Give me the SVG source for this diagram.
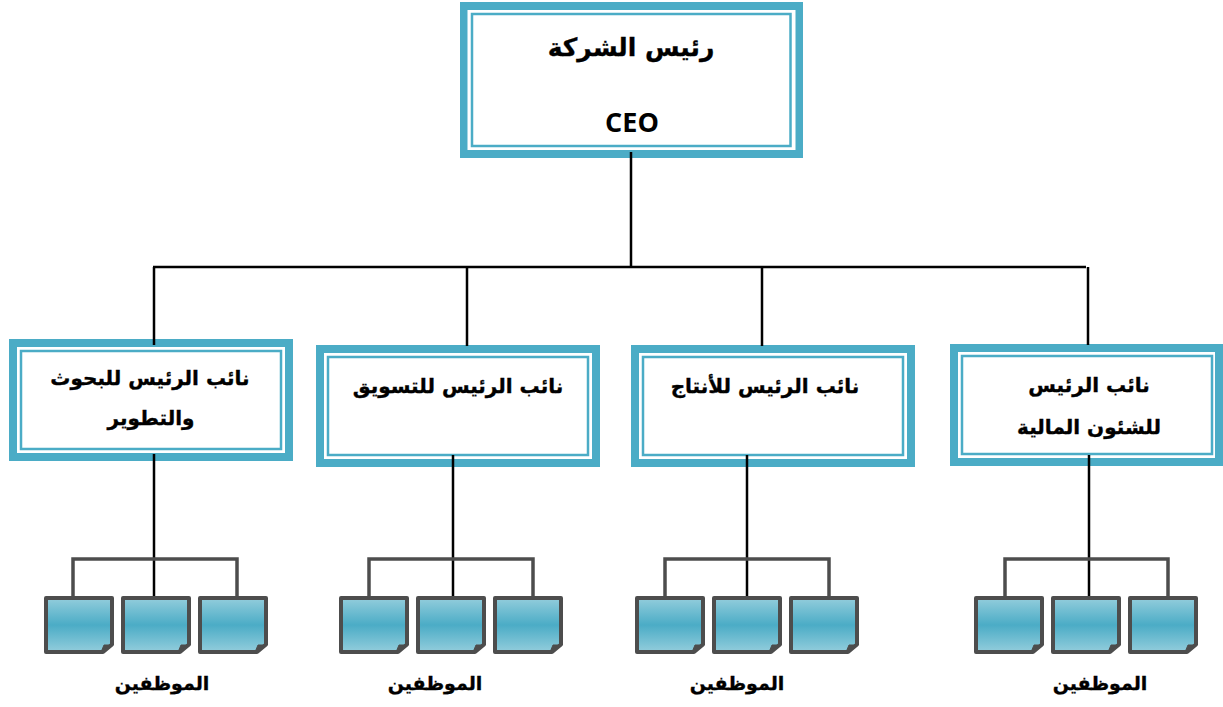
<svg xmlns="http://www.w3.org/2000/svg" width="1223" height="707" viewBox="0 0 1223 707">
<defs>
<linearGradient id="g" x1="0" y1="0" x2="0" y2="1"><stop offset="0" stop-color="#93cddc"/><stop offset="0.5" stop-color="#4bacc6"/><stop offset="1" stop-color="#93cddc"/></linearGradient>
<g id="leaf"><path class="leaf" d="M0 0H66V46.500L57 54H0Z"/><path class="fold" d="M65 47H58L55.500 53Z"/></g>
</defs>
<style>
text{font-weight:700;fill:#000;text-anchor:middle}
.a{font-family:"DejaVu Sans",sans-serif;font-size:20px;direction:rtl;stroke:#000;stroke-width:.35}
.t1{font-size:25px}
.s{font-size:19px}
.c{font-family:"Open Sans",sans-serif;font-size:27px}
.band{fill:#4bacc6}
.in{fill:#fff;stroke:#4bacc6;stroke-width:2.500}
.k{fill:none;stroke:#000;stroke-width:2.500}
.t{fill:none;stroke:#4d4d4d;stroke-width:3.500}
.leaf{fill:url(#g);stroke:#4d4d4d;stroke-width:4;stroke-linejoin:round}
.fold{fill:#4d4d4d;stroke:#4d4d4d;stroke-width:1}
</style>
<g id="ceo"><rect class="band" x="460" y="2" width="343" height="156"/><rect x="467.500" y="10" width="328" height="140" fill="#fff"/><rect class="in" x="472" y="14" width="318.500" height="132"/><text class="a t1" x="631" y="56">رئيس الشركة</text><text class="c" x="632" y="132">CEO</text></g>
<g id="vp-rd"><rect class="band" x="9" y="339" width="284" height="122"/><rect x="17" y="347" width="268" height="106" fill="#fff"/><rect class="in" x="21" y="351" width="260" height="98"/><text class="a" x="150" y="385">نائب الرئيس للبحوث</text><text class="a" x="151" y="425">والتطوير</text></g>
<g id="vp-marketing"><rect class="band" x="316" y="345" width="284" height="122"/><rect x="324" y="353" width="268" height="106" fill="#fff"/><rect class="in" x="328" y="357" width="260" height="98"/><text class="a" x="458" y="393">نائب الرئيس للتسويق</text></g>
<g id="vp-production"><rect class="band" x="631" y="345" width="284" height="122"/><rect x="639" y="353" width="268" height="106" fill="#fff"/><rect class="in" x="643" y="357" width="260" height="98"/><text class="a" x="765" y="393">نائب الرئيس للأنتاج</text></g>
<g id="vp-finance"><rect class="band" x="950" y="344" width="273" height="122"/><rect x="958" y="352" width="257" height="106" fill="#fff"/><rect class="in" x="962" y="356" width="250" height="98"/><text class="a" x="1089" y="392">نائب الرئيس</text><text class="a" x="1089" y="434">للشئون المالية</text></g>
<g id="connectors">
<path class="k" d="M631 152V267M153 267H1086M154 267V345M467 267V346M762 267V346M1088 267V345M154 454V597M453 455V597M747 455V597M1089 455V597"/>
<path class="t" d="M73 597V559H237V597M369 597V559H533V597M665 597V559H829V597M1005 597V559H1168V597"/>
</g>
<g id="staff-1"><use href="#leaf" x="46" y="598"/><use href="#leaf" x="123" y="598"/><use href="#leaf" x="200" y="598"/><text class="a s" x="162" y="690">الموظفين</text></g>
<g id="staff-2"><use href="#leaf" x="341" y="598"/><use href="#leaf" x="418" y="598"/><use href="#leaf" x="495" y="598"/><text class="a s" x="435" y="690">الموظفين</text></g>
<g id="staff-3"><use href="#leaf" x="637" y="598"/><use href="#leaf" x="714" y="598"/><use href="#leaf" x="791" y="598"/><text class="a s" x="737" y="690">الموظفين</text></g>
<g id="staff-4"><use href="#leaf" x="976" y="598"/><use href="#leaf" x="1053" y="598"/><use href="#leaf" x="1130" y="598"/><text class="a s" x="1100" y="690">الموظفين</text></g>
</svg>
